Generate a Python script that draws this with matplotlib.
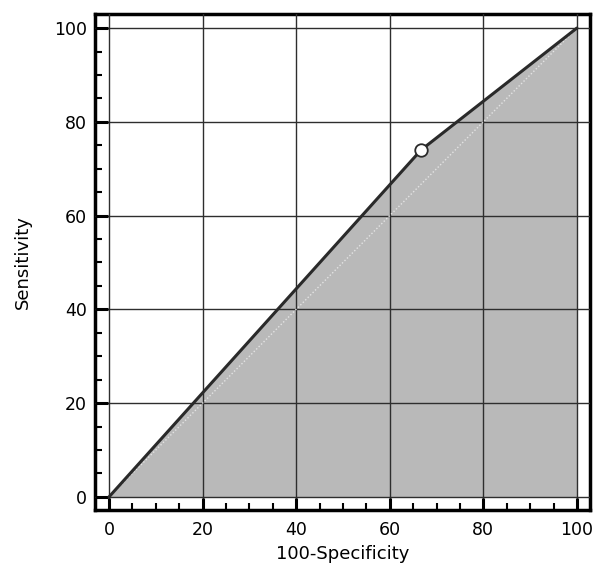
import numpy as np
import matplotlib.pyplot as plt
from matplotlib.ticker import MultipleLocator

# ROC curve points (100-Specificity, Sensitivity)
fpr = [0, 66.7, 100]
tpr = [0, 74.0, 100]
# operating point (criterion)
op_x = [66.7]
op_y = [74.0]
diag = [0, 100]

plt.rcParams['font.family'] = ['DejaVu Sans']

fig = plt.figure(figsize=(5.98, 5.65), dpi=100)
ax = fig.add_axes([95/598, 1-510/565, (590-95)/598, (510-14)/565])

ax.fill_between(fpr, tpr, 0, color='#b9b9b9', lw=0, zorder=1)
ax.grid(True, which='major', color='#2e2e2e', lw=1, zorder=2)
ax.set_axisbelow(False)
ax.plot(diag, diag, color='#e4e4e4', lw=1, ls=(0, (1, 1.5)), zorder=3)
ax.plot(fpr, tpr, color='#2a2a2a', lw=2.2, zorder=4, solid_capstyle='round')
ax.plot(op_x, op_y, 'o', ms=9, mfc='white', mec='#2a2a2a', mew=1.3, zorder=5)

ax.set_xlim(-3.0, 102.8)
ax.set_ylim(-2.8, 103.0)
ax.xaxis.set_major_locator(MultipleLocator(20))
ax.yaxis.set_major_locator(MultipleLocator(20))
ax.xaxis.set_minor_locator(MultipleLocator(5))
ax.yaxis.set_minor_locator(MultipleLocator(5))
ax.tick_params(which='major', direction='in', length=9, width=2.2, labelsize=12.5, pad=6)
ax.tick_params(which='minor', direction='in', length=5, width=1.5)
ax.tick_params(axis='x', pad=8)
for s in ax.spines.values():
    s.set_linewidth(2.5)

ax.set_xlabel('100-Specificity', fontsize=13, labelpad=4)
ax.set_ylabel('Sensitivity', fontsize=13, labelpad=16)

plt.savefig('out.png', dpi=100)
